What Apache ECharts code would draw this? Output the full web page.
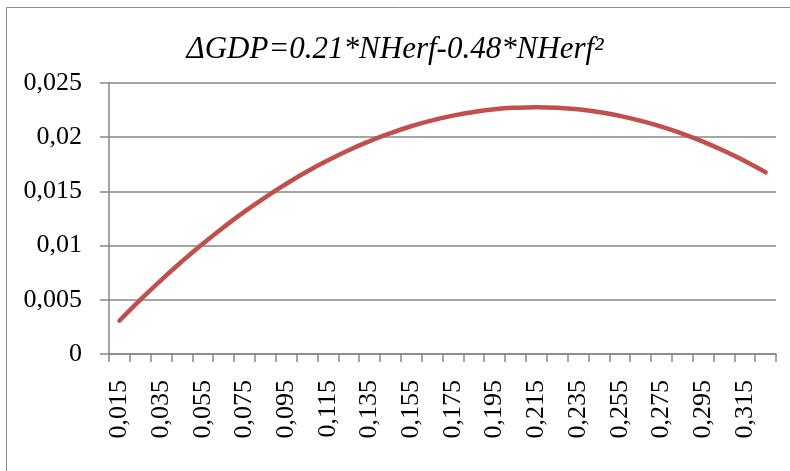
<!DOCTYPE html>
<html>
<head>
<meta charset="utf-8">
<script src="https://cdn.jsdelivr.net/npm/echarts@6/dist/echarts.min.js"></script>
<style>
html,body{margin:0;padding:0;background:#fff;}
#c{width:790px;height:471px;}
</style>
</head>
<body>
<div id="c"></div>
<script>
var titleText = 'ΔGDP=0.21*NHerf-0.48*NHerf²';
var categories = ['0,015','0,025','0,035','0,045','0,055','0,065','0,075','0,085','0,095','0,105',
  '0,115','0,125','0,135','0,145','0,155','0,165','0,175','0,185','0,195','0,205',
  '0,215','0,225','0,235','0,245','0,255','0,265','0,275','0,285','0,295','0,305',
  '0,315','0,325'];
var gdpValues = [0.00307,0.00499,0.00682,0.00854,0.01017,0.01170,0.01313,0.01446,0.01569,0.01683,
  0.01786,0.01880,0.01963,0.02037,0.02101,0.02155,0.02199,0.02233,0.02258,0.02272,
  0.02277,0.02272,0.02257,0.02232,0.02197,0.02152,0.02098,0.02033,0.01959,0.01875,
  0.01780,0.01676];
var yMin = 0, yMax = 0.025, yStep = 0.005;

var chart = echarts.init(document.getElementById('c'), null, {renderer:'canvas'});
var gray = '#878787';
var font = '"Liberation Serif","Times New Roman",serif';
chart.setOption({
  animation:false,
  backgroundColor:'#fff',
  graphic:[{type:'rect',shape:{x:6.5,y:7.5,width:800,height:480},style:{fill:'none',stroke:'#8c8c8c',lineWidth:1},z:-1}],
  title:{text:titleText,left:'center',top:29,
    textStyle:{fontFamily:font,fontStyle:'italic',fontWeight:'normal',fontSize:31,color:'#000'}},
  grid:{left:109,right:14,top:83,bottom:117},
  xAxis:{type:'category',data:categories,boundaryGap:true,
    axisLine:{lineStyle:{color:gray,width:1.5}},
    axisTick:{show:true,length:8,lineStyle:{color:gray,width:1.5},interval:0},
    axisLabel:{interval:1,rotate:90,margin:26,fontFamily:font,fontSize:26,color:'#000'},
    splitLine:{show:false}},
  yAxis:{type:'value',min:yMin,max:yMax,interval:yStep,
    axisLine:{show:true,lineStyle:{color:gray,width:1.5}},
    axisTick:{show:true,length:9,lineStyle:{color:gray,width:1.5}},
    axisLabel:{margin:27,fontFamily:font,fontSize:26,color:'#000',
      formatter:function(v){return String(+(+v).toFixed(3)).replace('.',',');}},
    splitLine:{lineStyle:{color:gray,width:1.5}}},
  series:[{type:'line',data:gdpValues,smooth:true,showSymbol:false,
    lineStyle:{color:'#c0504d',width:4.5,cap:'round'}}]
});
</script>
</body>
</html>
